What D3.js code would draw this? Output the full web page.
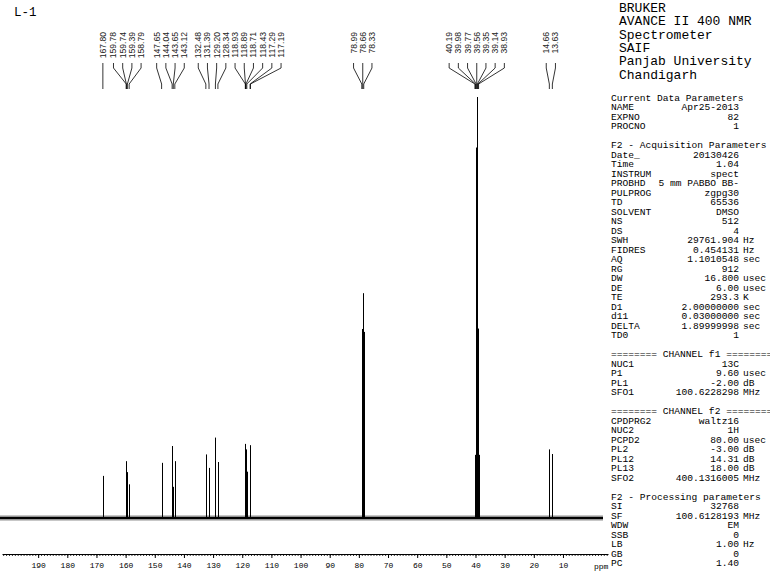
<!DOCTYPE html>
<html><head><meta charset="utf-8">
<script src="https://cdn.jsdelivr.net/npm/d3@7"></script>
<style>
html,body{margin:0;padding:0;background:#fff;}
svg{display:block;}
</style></head>
<body>
<svg id="chart" width="770" height="573"></svg>
<script>
// ---------- data ----------
const title = "L-1";
const peakPpm = [167.80,159.78,159.74,159.39,158.79,147.65,144.04,143.65,143.12,132.48,131.39,129.20,128.34,
  118.93,118.89,118.71,118.43,117.29,117.19,78.99,78.66,78.33,40.19,39.98,39.77,39.56,39.35,39.14,38.93,14.66,13.63];
const peakInt = [10.0,13.5,9.3,10.9,8.0,13.1,17.1,7.4,13.5,15.1,11.9,19.1,13.3,
  17.6,11.0,16.3,11.0,17.3,13.8,44.9,53.4,44.2,15,45,88,100,88,45,15,16.3,15.2];
const majorTicks = [190,180,170,160,150,140,130,120,110,100,90,80,70,60,50,40,30,20,10];
const headerLines = ["BRUKER","AVANCE II 400 NMR","Spectrometer","SAIF","Panjab University","Chandigarh"];
const paramNames = ["Current Data Parameters","NAME","EXPNO","PROCNO","",
 "F2 - Acquisition Parameters","Date_","Time","INSTRUM","PROBHD","PULPROG","TD","SOLVENT","NS","DS","SWH","FIDRES","AQ","RG","DW","DE","TE","D1","d11","DELTA","TD0","",
 "======== CHANNEL f1 ========","NUC1","P1","PL1","SFO1","",
 "======== CHANNEL f2 ========","CPDPRG2","NUC2","PCPD2","PL2","PL12","PL13","SFO2","",
 "F2 - Processing parameters","SI","SF","WDW","SSB","LB","GB","PC"];
const paramValues = ["","Apr25-2013","82","1","",
 "","20130426","1.04","spect","5 mm PABBO BB-","zgpg30","65536","DMSO","512","4","29761.904","0.454131","1.1010548","912","16.800","6.00","293.3","2.00000000","0.03000000","1.89999998","1","",
 "","13C","9.60","-2.00","100.6228298","",
 "","waltz16","1H","80.00","-3.00","14.31","18.00","400.1316005","",
 "","32768","100.6128193","EM","0","1.00","0","1.40"];
const paramUnits = ["","","","","",
 "","","","","","","","","","","Hz","Hz","sec","","usec","usec","K","sec","sec","sec","","",
 "","","usec","dB","MHz","",
 "","","","usec","dB","dB","dB","MHz","",
 "","","MHz","","","Hz","",""];

// ---------- layout ----------
const svg = d3.select("#chart");
const mono = "'Liberation Mono', 'DejaVu Sans Mono', monospace";
const x = d3.scaleLinear().domain([202.4, -3.4]).range([2, 602]);
const y = d3.scaleLinear().domain([0, 100]).range([518, 97]);

// title
svg.append("text").attr("x", 14).attr("y", 16).attr("font-family", mono).attr("font-size", 12.5).text(title);

// baseline noise band
svg.append("line").attr("x1", x(202.4)-2).attr("x2", x(-3.4)+1).attr("y1", y(0)).attr("y2", y(0))
  .attr("stroke", "#444").attr("stroke-width", 6).attr("stroke-opacity", 0.3);
svg.append("line").attr("x1", x(202.4)-2).attr("x2", x(-3.4)+1).attr("y1", y(0)).attr("y2", y(0))
  .attr("stroke", "#000").attr("stroke-width", 2.6);

// peaks
const peaks = peakPpm.map((p, i) => ({ppm: p, val: peakInt[i]}));
svg.append("g").selectAll("line").data(peaks).join("line")
  .attr("x1", d => Math.round(x(d.ppm)) + 0.5).attr("x2", d => Math.round(x(d.ppm)) + 0.5)
  .attr("y1", y(0)).attr("y2", d => y(d.val))
  .attr("stroke", "#000").attr("stroke-width", 1);

// peak labels: cluster and spread
const s = 9.2;
const sorted = peaks.slice().sort((a, b) => b.ppm - a.ppm);
const clusters = [];
sorted.forEach((d, i) => {
  if (i === 0 || sorted[i-1].ppm - d.ppm > 5) clusters.push([]);
  clusters[clusters.length-1].push(d);
});
let prevEnd = -Infinity;
clusters.forEach(c => {
  const mean = d3.mean(c, d => x(d.ppm));
  let start = mean - (c.length - 1) / 2 * s;
  if (start < prevEnd + s) start = prevEnd + s;
  c.forEach((d, i) => d.lx = start + i * s);
  prevEnd = c[c.length-1].lx;
});
const lab = svg.append("g");
lab.selectAll("path").data(sorted).join("path")
  .attr("d", d => `M${d.lx},63 L${d.lx},68 L${x(d.ppm)},84 L${x(d.ppm)},89`)
  .attr("fill", "none").attr("stroke", "#000").attr("stroke-width", 0.8);
lab.selectAll("text").data(sorted).join("text")
  .attr("transform", d => `translate(${d.lx + 3},32) rotate(-90)`)
  .attr("text-anchor", "end")
  .attr("font-family", "'Liberation Sans', Arial, sans-serif").attr("font-size", 8.6)
  .attr("fill", "#222")
  .text(d => d.ppm.toFixed(2));

// axis
const axScale = x.copy().domain([202.4, -5.45]).range([2, 608]);
const axG = svg.append("g").attr("transform", "translate(0,554)");
axG.append("g").call(d3.axisBottom(axScale).tickValues(d3.range(-5, 203, 1)).tickSize(2).tickSizeOuter(0).tickFormat(""))
  .call(g => g.selectAll("line").attr("stroke-width", 0.8))
  .call(g => g.select(".domain").attr("stroke-width", 1));
axG.append("g").call(d3.axisBottom(axScale).tickValues(majorTicks).tickSize(4).tickSizeOuter(0).tickPadding(4).tickFormat(d3.format("d")))
  .call(g => g.select(".domain").remove())
  .call(g => g.selectAll("text").attr("font-family", mono).attr("font-size", 8).attr("fill", "#000"));
svg.append("text").attr("x", 594).attr("y", 569).attr("font-family", mono).attr("font-size", 8).text("ppm");

// header
svg.append("g").selectAll("text").data(headerLines).join("text")
  .attr("x", 619).attr("y", (d, i) => 12 + i * 13.3)
  .attr("font-family", mono).attr("font-size", 13).text(d => d);

// parameter block
const pg = svg.append("g").attr("font-family", mono).attr("font-size", 9.6);
const rows = paramNames.map((n, i) => ({n, v: paramValues[i], u: paramUnits[i], i}));
pg.selectAll("text.n").data(rows).join("text").attr("class", "n")
  .attr("x", 611).attr("y", d => 100.5 + d.i * 9.5).attr("xml:space", "preserve").text(d => d.n);
pg.selectAll("text.v").data(rows.filter(d => d.v)).join("text").attr("class", "v")
  .attr("x", 739).attr("y", d => 100.5 + d.i * 9.5).attr("text-anchor", "end").text(d => d.v);
pg.selectAll("text.u").data(rows.filter(d => d.u)).join("text").attr("class", "u")
  .attr("x", 743).attr("y", d => 100.5 + d.i * 9.5).text(d => d.u);
</script>
</body></html>
